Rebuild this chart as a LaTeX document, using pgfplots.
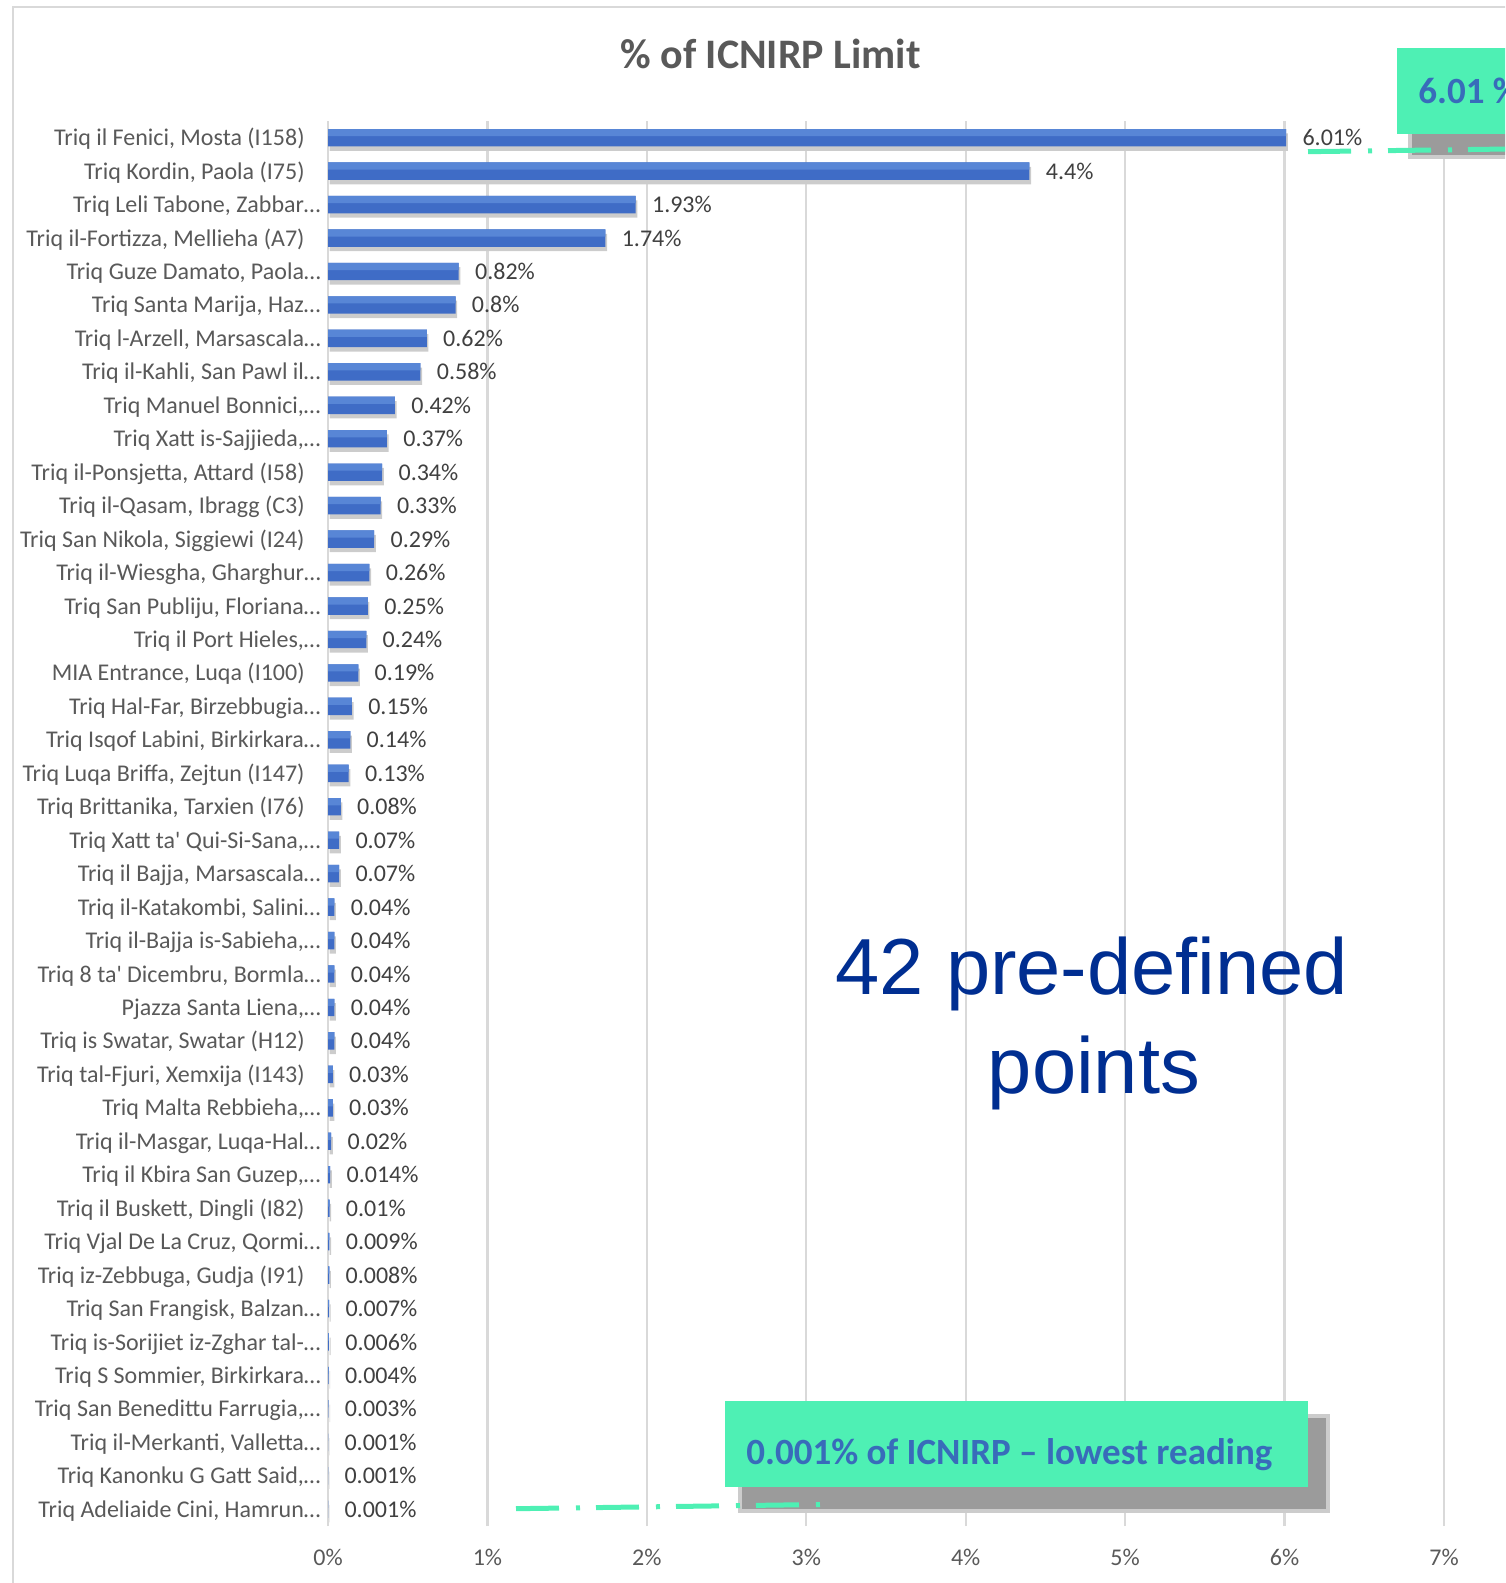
\documentclass[border=0pt]{standalone}
\usepackage{fontspec}
\setmainfont{Carlito}
\newfontfamily\arialfont{Liberation Sans}
\usepackage{pgfplots}
\usepackage{pgfplotstable}
\pgfplotsset{compat=1.18}
\definecolor{txt}{HTML}{595959}
\definecolor{lbl}{HTML}{404040}
\definecolor{gridc}{HTML}{D9D9D9}
\definecolor{barfill}{RGB}{63,108,198}
\definecolor{barhi}{RGB}{88,134,214}
\definecolor{boxgreen}{RGB}{78,240,180}
\definecolor{boxtext}{RGB}{56,108,186}
\definecolor{bigblue}{RGB}{0,46,145}
\definecolor{shadowgray}{RGB}{155,155,155}
\newcommand{\N}[1]{#1\hspace*{8pt}}
\newcommand{\lf}{\fontsize{12}{14}\selectfont}

\pgfplotstableread{
pos val
41 6.01
40 4.4
39 1.93
38 1.74
37 0.82
36 0.8
35 0.62
34 0.58
33 0.42
32 0.37
31 0.34
30 0.33
29 0.29
28 0.26
27 0.25
26 0.24
25 0.19
24 0.15
23 0.14
22 0.13
21 0.08
20 0.07
19 0.07
18 0.04
17 0.04
16 0.04
15 0.04
14 0.04
13 0.03
12 0.03
11 0.02
10 0.014
9 0.01
8 0.009
7 0.008
6 0.007
5 0.006
4 0.004
3 0.003
2 0.001
1 0.001
0 0.001
}\datatable

\begin{document}
\begin{tikzpicture}
\begin{scope}[x=0.5pt,y=-0.5pt,shift={(0pt,791.5pt)}]
\useasboundingbox (0,0) rectangle (1505,1583);
\end{scope}
\clip (0pt,0pt) rectangle (752.5pt,791.5pt);
\begin{scope}[x=0.5pt,y=-0.5pt,shift={(0pt,791.5pt)}]
\draw[gridc, line width=1pt] (12.7,7.3) rectangle (1560,1620);
\node[anchor=base, inner sep=0pt, text=txt, font=\fontsize{21}{24}\selectfont\bfseries] at (770.5,68.3) {\% of ICNIRP Limit};
\end{scope}

\begin{axis}[
  at={(164pt,28.5pt)}, anchor=south west,
  scale only axis, width=558pt, height=702.5pt,
  xmin=0, xmax=7, ymin=-0.5, ymax=41.5,
  xbar, bar width=8.7pt,
  xtick={0,1,...,7},
  xticklabel={\pgfmathprintnumber[assume math mode=true]{\tick}\%},
  xticklabel style={anchor=base, yshift=-19.5pt, inner sep=0pt, font=\lf, text=txt},
  ytick={0,1,...,41},
  yticklabels={
    {Triq Adeliaide Cini, Hamrun…},
    {Triq Kanonku G Gatt Said,…},
    {Triq il-Merkanti, Valletta…},
    {Triq San Benedittu Farrugia,…},
    {Triq S Sommier, Birkirkara…},
    {Triq is-Sorijiet iz-Zghar tal-…},
    {Triq San Frangisk, Balzan…},
    {\N{Triq iz-Zebbuga, Gudja (I91)}},
    {Triq Vjal De La Cruz, Qormi…},
    {\N{Triq il Buskett, Dingli (I82)}},
    {Triq il Kbira San Guzep,…},
    {Triq il-Masgar, Luqa-Hal…},
    {Triq Malta Rebbieha,…},
    {\N{Triq tal-Fjuri, Xemxija (I143)}},
    {\N{Triq is Swatar, Swatar (H12)}},
    {Pjazza Santa Liena,…},
    {Triq 8 ta\textquotesingle\ Dicembru, Bormla…},
    {Triq il-Bajja is-Sabieha,…},
    {Triq il-Katakombi, Salini…},
    {Triq il Bajja, Marsascala…},
    {Triq Xatt ta\textquotesingle\ Qui-Si-Sana,…},
    {\N{Triq Brittanika, Tarxien (I76)}},
    {\N{Triq Luqa Briffa, Zejtun (I147)}},
    {Triq Isqof Labini, Birkirkara…},
    {Triq Hal-Far, Birzebbugia…},
    {\N{MIA Entrance, Luqa (I100)}},
    {Triq il Port Hieles,…},
    {Triq San Publiju, Floriana…},
    {Triq il-Wiesgha, Gharghur…},
    {\N{Triq San Nikola, Siggiewi (I24)}},
    {\N{Triq il-Qasam, Ibragg (C3)}},
    {\N{Triq il-Ponsjetta, Attard (I58)}},
    {Triq Xatt is-Sajjieda,…},
    {Triq Manuel Bonnici,…},
    {Triq il-Kahli, San Pawl il…},
    {Triq l-Arzell, Marsascala…},
    {Triq Santa Marija, Haz…},
    {Triq Guze Damato, Paola…},
    {\N{Triq il-Fortizza, Mellieha (A7)}},
    {Triq Leli Tabone, Zabbar…},
    {\N{Triq Kordin, Paola (I75)}},
    {\N{Triq il Fenici, Mosta (I158)}}
  },
  yticklabel style={anchor=base east, inner sep=0pt, xshift=-3.5pt, yshift=-4pt, font=\lf, text=txt},
  major tick length=0pt,
  xmajorgrids, grid style={gridc, line width=1.1pt},
  axis line style={draw=none},
  clip=false,
  point meta=explicit symbolic,
]
% bar body with soft shadow below
\addplot[draw=none, fill=barfill,
  preaction={fill=black!20, transform canvas={shift={(0.8pt,-2.2pt)}}},
  nodes near coords={\pgfplotspointmeta\%},
  every node near coord/.append style={anchor=base west, inner sep=0pt, xshift=8pt, yshift=-4pt, font=\lf, text=lbl}]
  table[x=val, y=pos, meta=val] {\datatable};
% lighter upper band (gradient highlight), same data
\addplot[draw=none, fill=barhi, bar width=3.6pt, bar shift=2.55pt, forget plot]
  table[x=val, y=pos] {\datatable};
\end{axis}

\begin{scope}[x=0.5pt,y=-0.5pt,shift={(0pt,791.5pt)}]
% big annotation
\node[anchor=base, inner sep=0pt, text=bigblue, font=\arialfont\fontsize{39.75}{48}\selectfont] at (1092,995) {42 pre-defined};
\node[anchor=base, inner sep=0pt, text=bigblue, font=\arialfont\fontsize{39.75}{48}\selectfont] at (1094,1094) {points};
% box 1
\fill[black!20] (1408,130) rectangle (1540,159);
\fill[shadowgray] (1412,134) rectangle (1540,155);
\fill[boxgreen] (1396.7,48.3) rectangle (1540,134.3);
\node[anchor=base west, inner sep=0pt, text=boxtext, font=\fontsize{18.5}{22}\selectfont\bfseries] at (1418,104) {6.01 \%};
% box 2
\fill[black!20] (738,1414) rectangle (1330,1513);
\fill[shadowgray] (742,1418) rectangle (1326,1509);
\fill[boxgreen] (725.3,1400.7) rectangle (1308.4,1487.3);
\begin{scope}
\clip (725.3,1400.7) rectangle (1308.4,1471);
\node[anchor=base west, inner sep=0pt, text=boxtext, font=\fontsize{18.5}{22}\selectfont\bfseries] at (746,1465) {0.001\% of ICNIRP – lowest reading};
\end{scope}
% dash-dot connectors
\draw[boxgreen, line width=2.5pt, dash pattern=on 21.5pt off 8.5pt on 2pt off 8pt] (516,1508.7) -- (820,1504.5);
\draw[boxgreen, line width=2.5pt, dash pattern=on 21.5pt off 8.5pt on 2pt off 8pt] (1308,151.7) -- (1540,148.6);
\end{scope}
\end{tikzpicture}
\end{document}
